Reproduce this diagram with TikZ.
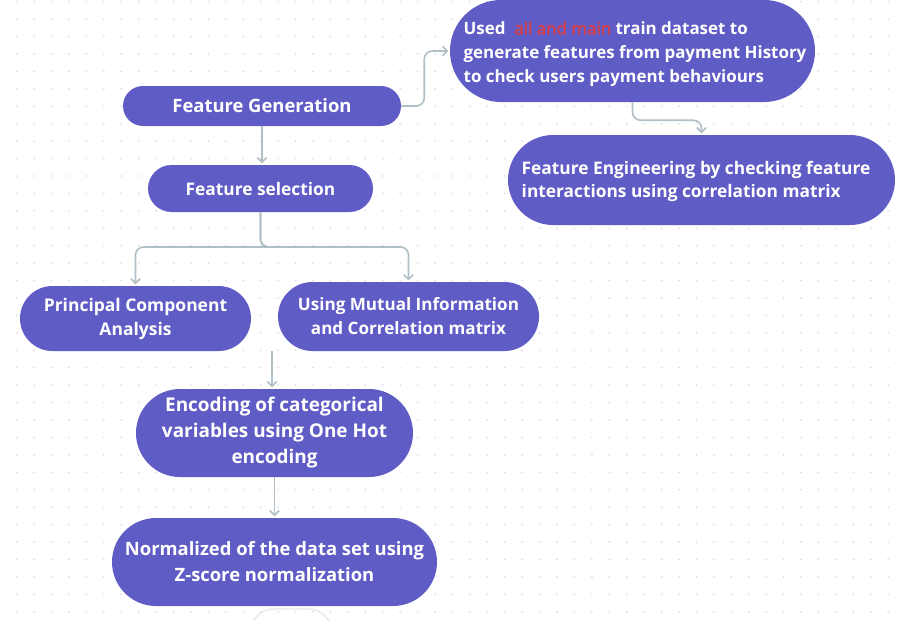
\documentclass[tikz,border=0pt]{standalone}
\usepackage{fontspec}
\setmainfont{Open Sans}
\newfontfamily\redfont[FakeBold=1.6]{Open Sans}
\usetikzlibrary{shapes.misc,arrows.meta,calc}
\definecolor{pillfill}{RGB}{96,92,198}
\definecolor{connc}{RGB}{176,190,197}
\definecolor{dotc}{RGB}{222,223,230}
\definecolor{hlred}{RGB}{222,62,66}
\definecolor{faintc}{RGB}{232,232,236}
\begin{document}
\begin{tikzpicture}[x=0.75pt,y=-0.75pt,
  pill/.style={rounded rectangle, fill=pillfill, text=white, inner sep=0pt, align=center,
    font=\bfseries\fontsize{12.8}{18}\selectfont},
  txt/.style={text=white, inner sep=0pt, align=left},
  conn/.style={draw=connc, line width=1.2pt, rounded corners=6pt,
    -{Straight Barb[length=3.5pt,width=7pt]}, shorten >=1pt}]
\useasboundingbox (0,0) rectangle (904,621);
\fill[white] (0,0) rectangle (904,621);
\foreach \i in {0,...,51} {\foreach \j in {0,...,35} {
  \fill[dotc] (16.7+17.43*\i, 1.7+17.43*\j) circle[radius=0.75pt];}}
\draw[faintc, line width=1pt, rounded corners=18pt] (250,626) -- (250,609) -- (332,609) -- (332,626);

\node[pill, minimum width=273.75pt, minimum height=76.5pt] (top) at (632.5,51) {};
\node[txt, font=\bfseries\fontsize{12.7}{18}\selectfont] (toptext) at (635,54)
  {Used\ \ {\redfont\mdseries\color{hlred}all and main} train dataset to\\generate features from payment History\\to check users payment behaviours};
\node[pill, minimum width=208.5pt, minimum height=30pt, font=\bfseries\fontsize{13.8}{18}\selectfont] (fg) at (262,106) {Feature Generation};
\node[pill, minimum width=168.75pt, minimum height=35.25pt, font=\bfseries\fontsize{13}{18}\selectfont] (fs) at (260.5,188.5) {Feature selection};
\node[pill, minimum width=290.25pt, minimum height=67.5pt] (fe) at (701.5,180) {};
\node[txt, font=\bfseries\fontsize{13}{17.25}\selectfont] (fetext) at (696,181)
  {Feature Engineering by checking feature\\interactions using correlation matrix};
\node[pill, minimum width=173.25pt, minimum height=48.75pt, font=\bfseries\fontsize{13.1}{18}\selectfont] (pca) at (135.5,318.5) {Principal Component\\Analysis};
\node[pill, minimum width=195.75pt, minimum height=51.75pt] (mi) at (408.5,316.5) {Using Mutual Information\\and Correlation matrix};
\node[pill, minimum width=207.75pt, minimum height=66pt, font=\bfseries\fontsize{14.2}{19.5}\selectfont] (enc) at (274.5,433) {Encoding of categorical\\variables using One Hot\\encoding};
\node[pill, minimum width=243.75pt, minimum height=66pt, font=\bfseries\fontsize{13.8}{19.5}\selectfont] (norm) at (274.5,562) {Normalized of the data set using\\Z-score normalization};

\coordinate (fork) at (261,247);
\coordinate (s) at (272,351);
\draw[conn] (fg.east) -- ++(23,0) |- (top.west);
\draw[conn] (top.south) -- ++(0,18) -| (fe.north);
\draw[conn] (fg.south) -- (fg.south |- fs.north);
\draw[conn] (fs.south) |- (fork) -| (pca.north);
\draw[conn] (fs.south) |- (fork) -| (mi.north);
\draw[conn] (s) -- (s |- enc.north);
\draw[conn] (enc.south) -- (norm.north);
\end{tikzpicture}
\end{document}
